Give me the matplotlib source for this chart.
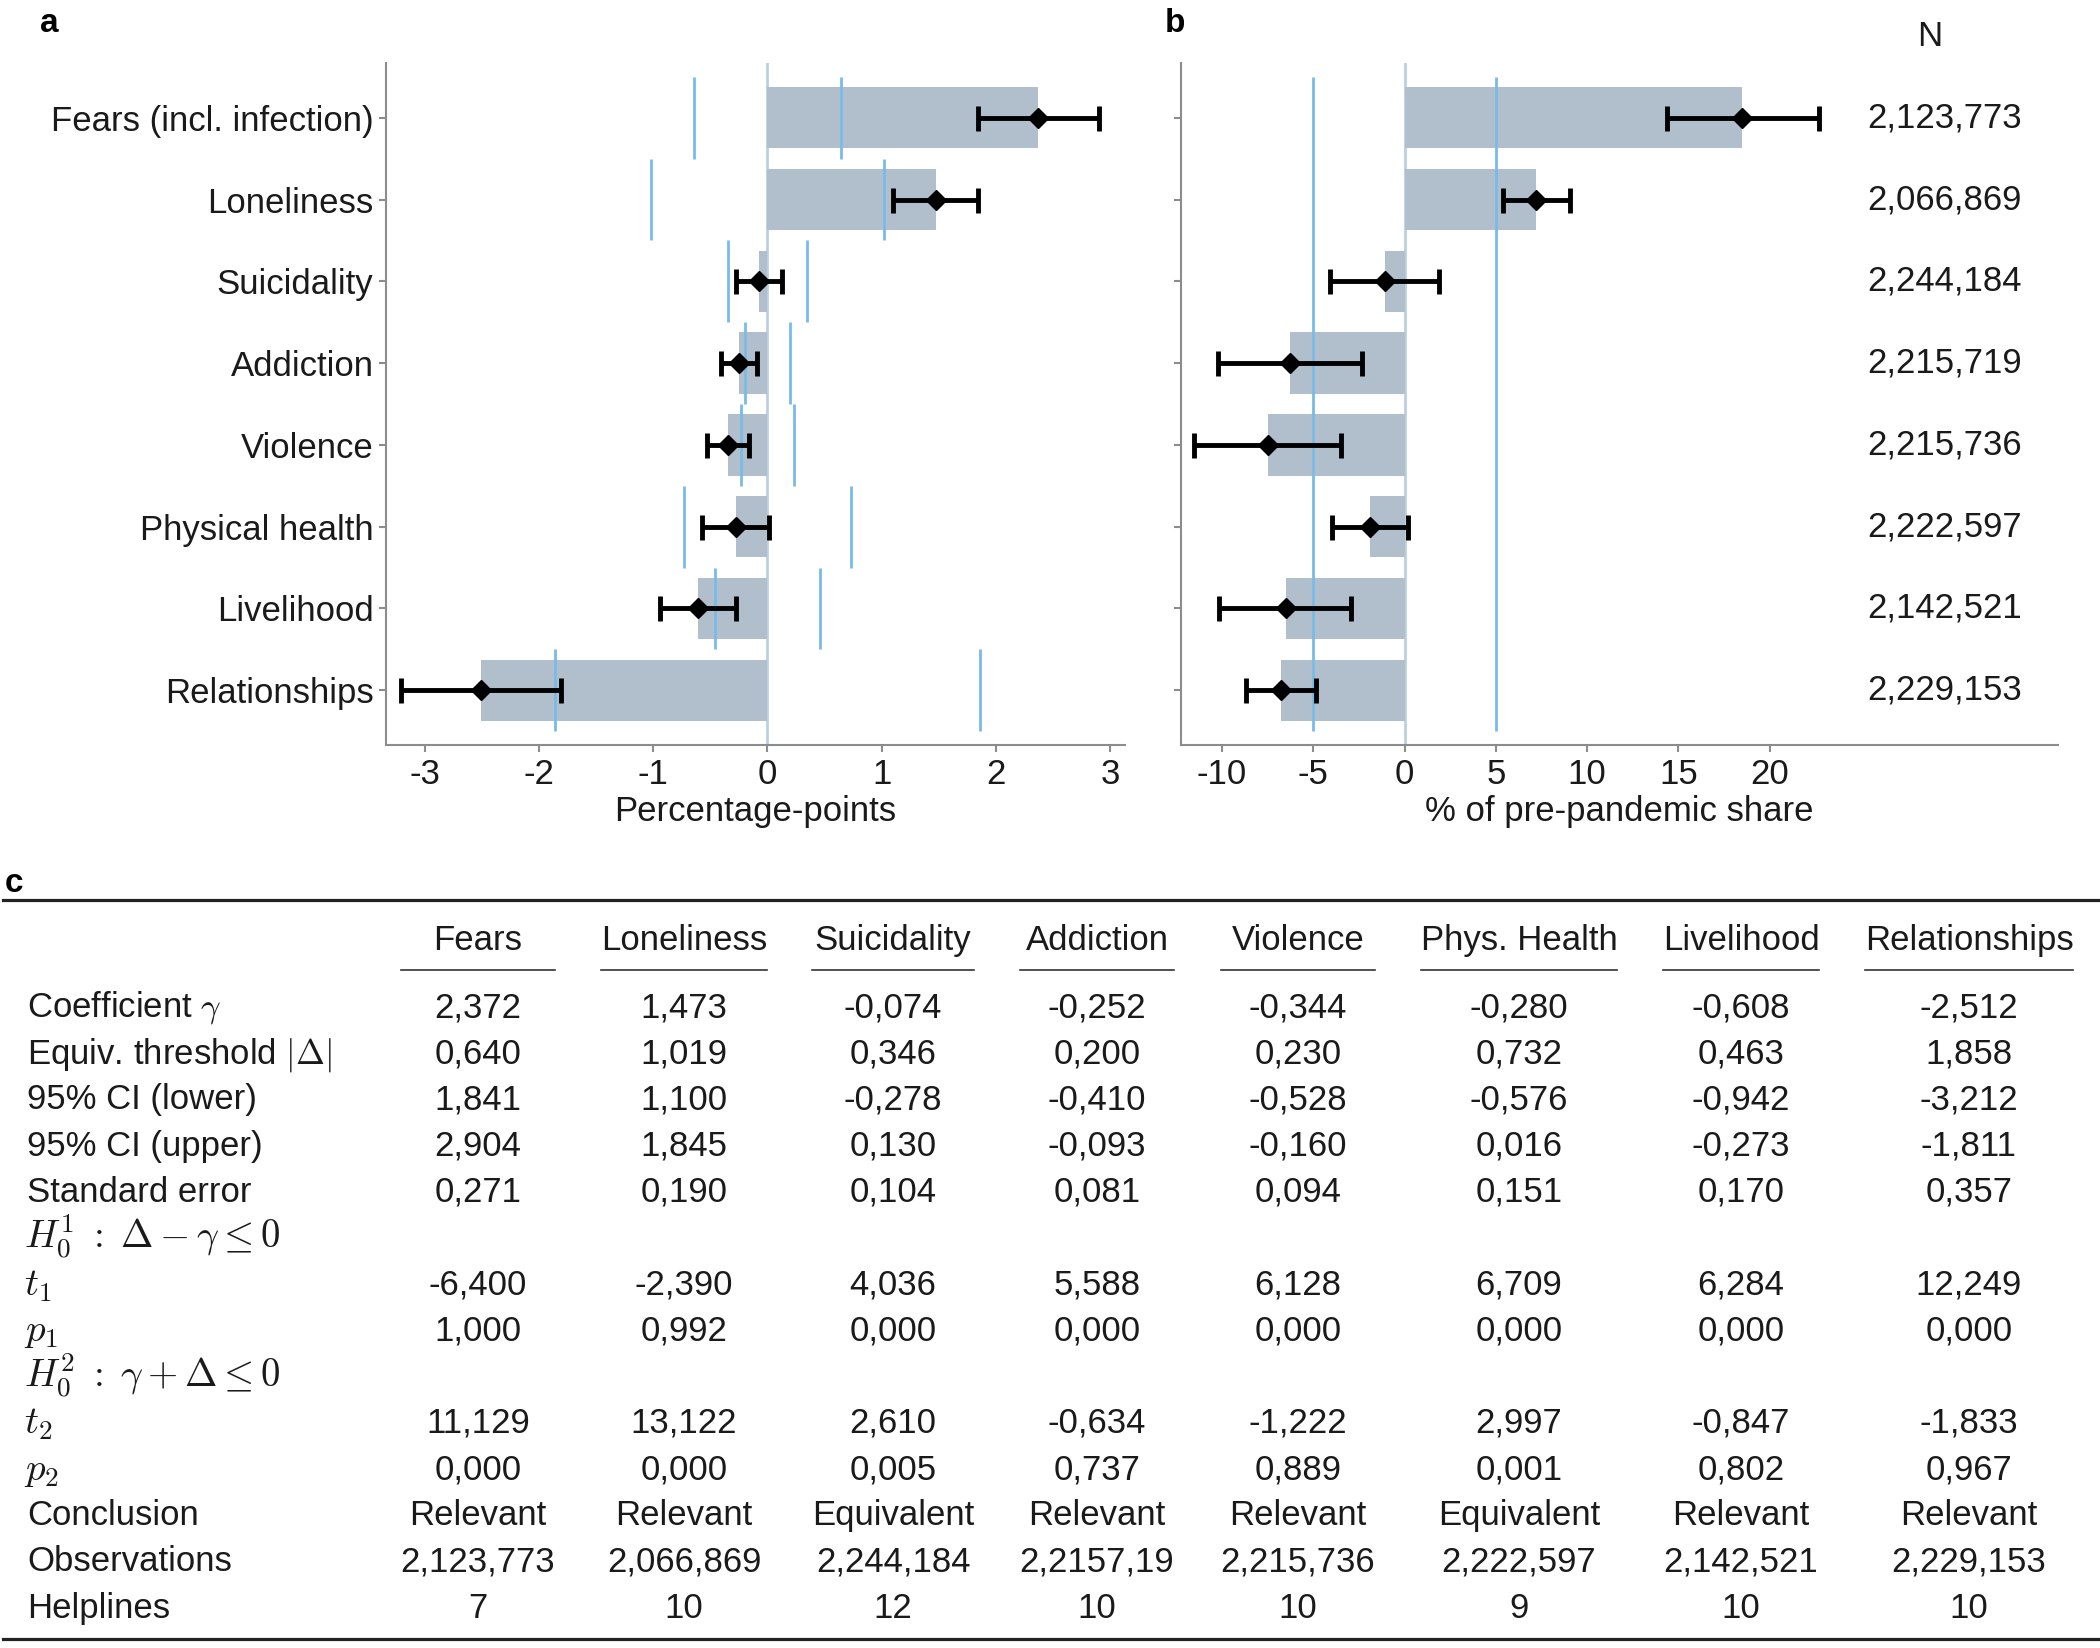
import matplotlib
matplotlib.use("Agg")
import matplotlib.pyplot as plt
from matplotlib.lines import Line2D
from matplotlib import font_manager
import numpy as np

# ---------------- data ----------------
categories = ["Fears (incl. infection)", "Loneliness", "Suicidality", "Addiction",
              "Violence", "Physical health", "Livelihood", "Relationships"]
table_headers = ["Fears", "Loneliness", "Suicidality", "Addiction", "Violence",
                 "Phys. Health", "Livelihood", "Relationships"]
coef = [2.372, 1.473, -0.074, -0.252, -0.344, -0.280, -0.608, -2.512]
delta = [0.640, 1.019, 0.346, 0.200, 0.230, 0.732, 0.463, 1.858]
ci_lower = [1.841, 1.100, -0.278, -0.410, -0.528, -0.576, -0.942, -3.212]
ci_upper = [2.904, 1.845, 0.130, -0.093, -0.160, 0.016, -0.273, -1.811]
std_err = [0.271, 0.190, 0.104, 0.081, 0.094, 0.151, 0.170, 0.357]
t1 = [-6.400, -2.390, 4.036, 5.588, 6.128, 6.709, 6.284, 12.249]
p1 = [1.000, 0.992, 0.000, 0.000, 0.000, 0.000, 0.000, 0.000]
t2 = [11.129, 13.122, 2.610, -0.634, -1.222, 2.997, -0.847, -1.833]
p2 = [0.000, 0.000, 0.005, 0.737, 0.889, 0.001, 0.802, 0.967]
conclusion = ["Relevant", "Relevant", "Equivalent", "Relevant", "Relevant",
              "Equivalent", "Relevant", "Relevant"]
observations = [2123773, 2066869, 2244184, 2215719, 2215736, 2222597, 2142521, 2229153]
observations_table = ["2,123,773", "2,066,869", "2,244,184", "2,2157,19", "2,215,736",
                      "2,222,597", "2,142,521", "2,229,153"]
helplines = [7, 10, 12, 10, 10, 9, 10, 10]

pct_change = [18.5, 7.22, -1.05, -6.27, -7.46, -1.90, -6.51, -6.75]
pct_lower = [14.4, 5.39, -4.07, -10.24, -11.56, -3.97, -10.17, -8.71]
pct_upper = [22.7, 9.05, 1.90, -2.34, -3.49, 0.17, -2.92, -4.88]
pct_threshold = 5
xticks_a = [-3, -2, -1, 0, 1, 2, 3]
xticks_b = [-10, -5, 0, 5, 10, 15, 20]

# ---------------- style ----------------
avail = {f.name for f in font_manager.fontManager.ttflist}
FONT = "Liberation Sans" if "Liberation Sans" in avail else "DejaVu Sans"
plt.rcParams["font.family"] = [FONT, "DejaVu Sans"]
plt.rcParams["mathtext.fontset"] = "cm"
plt.rcParams["axes.unicode_minus"] = False

FS = 25
FS_MATH = 28
BAR = "#b1becb"
THR = "#79bbe8"
ZERO = "#bccfe1"
SPINE = "#8c8c8c"
TXT = "#1a1a1a"

W, H = 2100, 1648
fig = plt.figure(figsize=(W / 100, H / 100), dpi=100)


def fx(px):
    return px / W


def fy(py):
    return 1 - py / H


ax_top, ax_bot = 63, 745
ax_a = fig.add_axes([fx(386), fy(ax_bot), fx(1125 - 386), (ax_bot - ax_top) / H])
ax_b = fig.add_axes([fx(1181), fy(ax_bot), fx(2058 - 1181), (ax_bot - ax_top) / H])

y = np.arange(len(categories))


def style(ax):
    for s in ["top", "right"]:
        ax.spines[s].set_visible(False)
    for s in ["left", "bottom"]:
        ax.spines[s].set_color(SPINE)
        ax.spines[s].set_linewidth(1.5)
    ax.tick_params(axis="both", colors=SPINE, labelcolor=TXT, labelsize=FS,
                   length=5, width=1.5)
    ax.tick_params(axis="x", pad=4.5)
    ax.tick_params(axis="y", pad=4)
    ax.set_ylim(len(categories) - 1 + 0.67, -0.67)
    ax.set_yticks(y)


EB = dict(fmt="D", color="black", ms=10, elinewidth=3.5, capsize=9, capthick=3.5,
          zorder=4)

# ---- panel a ----
c = np.array(coef)
ax_a.axvline(0, color=ZERO, lw=2, zorder=1)
ax_a.barh(y, c, height=0.75, color=BAR, zorder=2)
d = np.array(delta)
ax_a.vlines(-d, y - 0.5, y + 0.5, color=THR, lw=2, zorder=3)
ax_a.vlines(d, y - 0.5, y + 0.5, color=THR, lw=2, zorder=3)
ax_a.errorbar(c, y, xerr=[c - np.array(ci_lower), np.array(ci_upper) - c], **EB)
ax_a.set_xlim(-3.34, 3.13)
ax_a.set_xticks(xticks_a)
style(ax_a)
ax_a.set_yticklabels(categories)
ax_a.set_xlabel("Percentage-points", fontsize=FS, color=TXT, labelpad=3)

# ---- panel b ----
pc = np.array(pct_change)
ax_b.axvline(0, color=ZERO, lw=2, zorder=1)
ax_b.barh(y, pc, height=0.75, color=BAR, zorder=2)
ax_b.vlines([-pct_threshold, pct_threshold], y[0] - 0.5, y[-1] + 0.5, color=THR,
            lw=2, zorder=3)
ax_b.errorbar(pc, y, xerr=[pc - np.array(pct_lower), np.array(pct_upper) - pc], **EB)
ax_b.set_xlim(-12.25, 35.8)
ax_b.set_xticks(xticks_b)
style(ax_b)
ax_b.set_yticklabels([])
ax_b.set_xlabel("% of pre-pandemic share", fontsize=FS, color=TXT, labelpad=3)
for yi, n in zip(y, observations):
    ax_b.text(29.6, yi, f"{n:,}", ha="center", va="center", fontsize=FS, color=TXT)
fig.text(fx(1930), fy(36), "N", ha="center", va="center", fontsize=FS, color=TXT)

# panel labels
fig.text(fx(40), fy(23), "a", ha="left", va="center", fontsize=24,
         fontweight="bold", color="black")
fig.text(fx(1165), fy(23), "b", ha="left", va="center", fontsize=24,
         fontweight="bold", color="black")
fig.text(fx(5), fy(884), "c", ha="left", va="center", fontsize=24,
         fontweight="bold", color="black")

# ---------------- table ----------------
def fmt(v):
    return f"{v:.3f}".replace(".", ",")


col_x = [478, 684, 893, 1097, 1298, 1519, 1741, 1969]
row_labels = [r"Coefficient $\gamma$", r"Equiv. threshold $|\Delta|$",
              "95% CI (lower)", "95% CI (upper)", "Standard error",
              r"$H_0^1\;:\;\Delta-\gamma\leq 0$", r"$t_1$", r"$p_1$",
              r"$H_0^2\;:\;\gamma+\Delta\leq 0$", r"$t_2$", r"$p_2$",
              "Conclusion", "Observations", "Helplines"]
math_only = [False, False, False, False, False, True, True, True, True, True, True,
             False, False, False]
rows = [[fmt(v) for v in coef], [fmt(v) for v in delta],
        [fmt(v) for v in ci_lower], [fmt(v) for v in ci_upper],
        [fmt(v) for v in std_err], None,
        [fmt(v) for v in t1], [fmt(v) for v in p1], None,
        [fmt(v) for v in t2], [fmt(v) for v in p2],
        conclusion, observations_table, [str(v) for v in helplines]]

row0, dy = 1004.5, 46.2
BASE = 12.5  # centre -> baseline offset in px
col_texts = [[] for _ in col_x]

for j, h in enumerate(table_headers):
    t = fig.text(fx(col_x[j]), fy(937.5 + BASE), h, ha="center", va="baseline",
                 fontsize=FS, color=TXT)
    col_texts[j].append(t)

for i, (lab, vals) in enumerate(zip(row_labels, rows)):
    yc = row0 + i * dy
    fig.text(fx(24 if math_only[i] else 27), fy(yc + BASE + (1 if math_only[i] else 0)),
             lab, ha="left", va="baseline", fontsize=FS_MATH if math_only[i] else FS,
             color=TXT)
    if vals is None:
        continue
    for j, v in enumerate(vals):
        t = fig.text(fx(col_x[j]), fy(yc + BASE), v, ha="center", va="baseline",
                     fontsize=FS, color=TXT)
        col_texts[j].append(t)

fig.canvas.draw()
r = fig.canvas.get_renderer()
for j, texts in enumerate(col_texts):
    wmax = max(t.get_window_extent(r).width for t in texts)
    fig.add_artist(Line2D([fx(col_x[j] - wmax / 2), fx(col_x[j] + wmax / 2)],
                          [fy(969.6), fy(969.6)], transform=fig.transFigure,
                          color="#333333", lw=1.2))

for yy in (900, 1639):
    fig.add_artist(Line2D([fx(3), fx(2100)], [fy(yy), fy(yy)],
                          transform=fig.transFigure, color="#222222", lw=2.3))

fig.savefig("out.png", dpi=100)
